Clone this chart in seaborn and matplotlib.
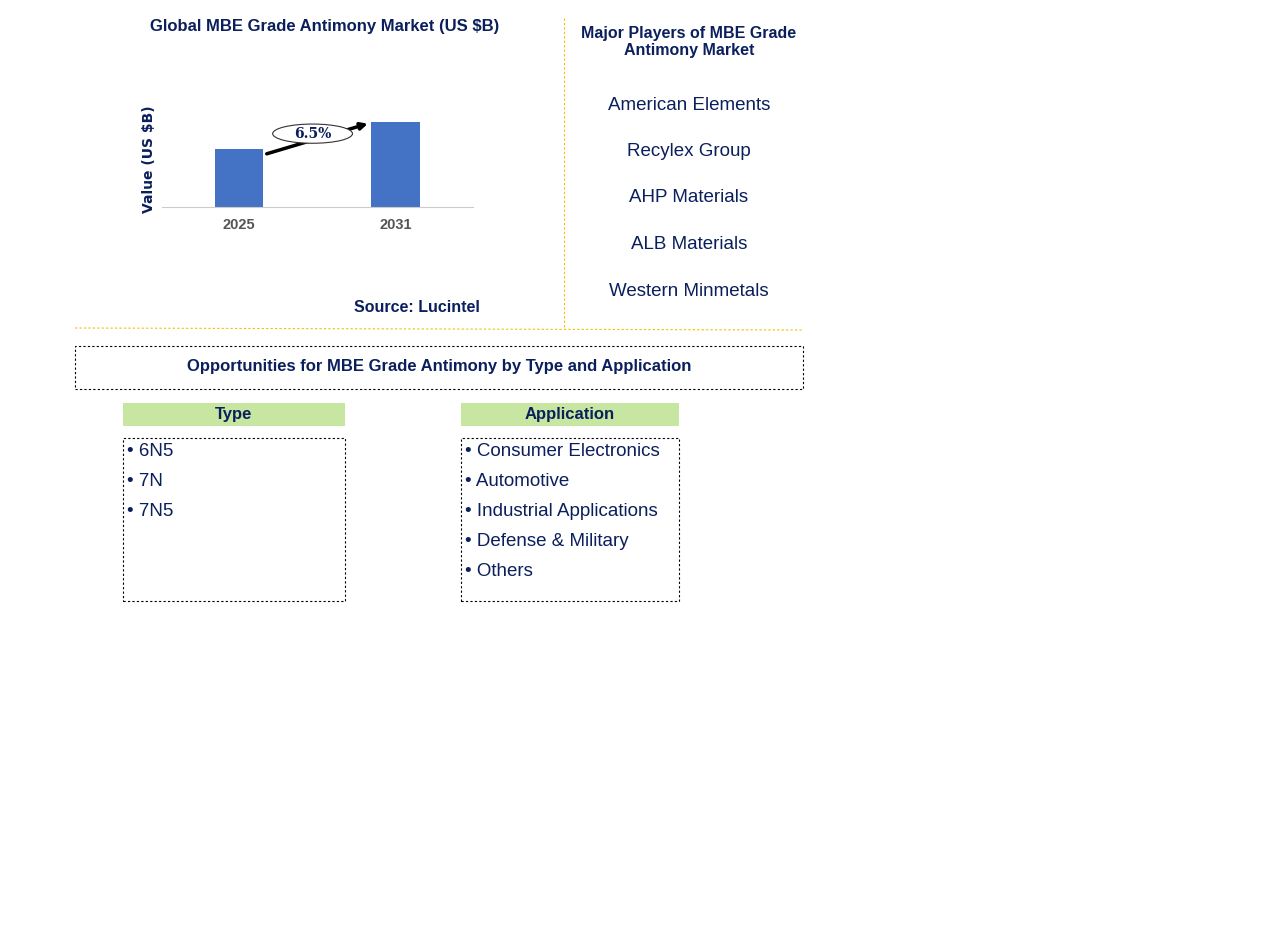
import matplotlib
matplotlib.use("Agg")
import matplotlib.pyplot as plt
import seaborn as sns
import pandas as pd
from matplotlib.patches import Ellipse, Rectangle

years = ["2025", "2031"]
values = [1.0, 1.46]
cagr_label = "6.5%"
players = ["American Elements", "Recylex Group", "AHP Materials", "ALB Materials", "Western Minmetals"]
types = ["6N5", "7N", "7N5"]
applications = ["Consumer Electronics", "Automotive", "Industrial Applications", "Defense & Military", "Others"]

W, H = 1266, 947
fig = plt.figure(figsize=(W/100, H/100), dpi=100)
navy = "#0a1f5c"
font = "Liberation Sans"

def fx(x): return x / W
def fy(y): return 1 - y / H

def txt(x, y, s, size, bold=False, ha="center", color=navy):
    fig.text(fx(x), fy(y), s, fontsize=size, fontweight="bold" if bold else "normal",
             ha=ha, va="center", color=color, family=font)

ax = fig.add_axes([fx(162), fy(207), fx(473) - fx(162), (207 - 112) / H])
df = pd.DataFrame({"year": years, "value": values})
sns.barplot(data=df, x="year", y="value", color="#4472c4", width=0.307, saturation=1, ax=ax)
ax.set_xlim(-0.492, 1.495)
ax.set_ylim(0, 1.632)
for s in ["top", "right", "left"]:
    ax.spines[s].set_visible(False)
ax.spines["bottom"].set_color("#cccccc")
ax.set_yticks([])
ax.tick_params(axis="x", length=0, pad=8)
for t in ax.get_xticklabels():
    t.set_fontweight("bold"); t.set_color("#555555"); t.set_fontsize(10.5); t.set_family(font)
ax.set_xlabel("")
ax.set_ylabel("Value (US $B)", fontsize=10, fontweight="bold", color=navy, labelpad=4)
ax.annotate("", xy=(1 - 0.16, values[1] * 0.99), xytext=(0.16, values[0] * 0.9),
            arrowprops=dict(arrowstyle="-|>", color="black", lw=2.5))
ax.add_patch(Ellipse((0.47, 1.26), 0.51, 0.33, facecolor="white", edgecolor="#333333", lw=0.8, zorder=5))
ax.text(0.47, 1.26, cagr_label, ha="center", va="center", fontsize=10, fontweight="bold",
        color=navy, family="DejaVu Serif", zorder=6)

txt(325, 26, "Global MBE Grade Antimony Market (US $B)", 12, True)
txt(417, 308, "Source: Lucintel", 11.5, True)
txt(689, 42, "Major Players of MBE Grade\nAntimony Market", 11.5, True)
for i, p in enumerate(players):
    txt(689, 105 + i * 46.5, p, 13.5)

# separators
fig.add_artist(plt.Line2D([fx(564), fx(564)], [fy(18), fy(327)], color="#f0c000", lw=0.8, ls=(0, (2, 2))))
fig.add_artist(plt.Line2D([fx(75), fx(803)], [fy(328), fy(330)], color="#f0c000", lw=0.8, ls=(0, (2, 2))))

def box(x0, y0, x1, y1, **kw):
    fig.add_artist(Rectangle((fx(x0), fy(y1)), fx(x1) - fx(x0), (y1 - y0) / H, transform=fig.transFigure, **kw))

box(75, 346, 803, 389, fill=False, edgecolor="black", lw=0.8, ls=(0, (2, 2)))
txt(439, 367, "Opportunities for MBE Grade Antimony by Type and Application", 12, True)

for (x0, x1, title, items) in [(123, 345, "Type", types), (461, 679, "Application", applications)]:
    box(x0, 403, x1, 426, facecolor="#c6e6a1", edgecolor="none")
    txt((x0 + x1) / 2, 414, title, 12, True)
    box(x0, 438, x1, 601, fill=False, edgecolor="black", lw=0.8, ls=(0, (2, 2)))
    for i, it in enumerate(items):
        txt(x0 + 4, 451 + i * 30, "• " + it, 13.5, ha="left")

fig.savefig("out.png", dpi=100)
